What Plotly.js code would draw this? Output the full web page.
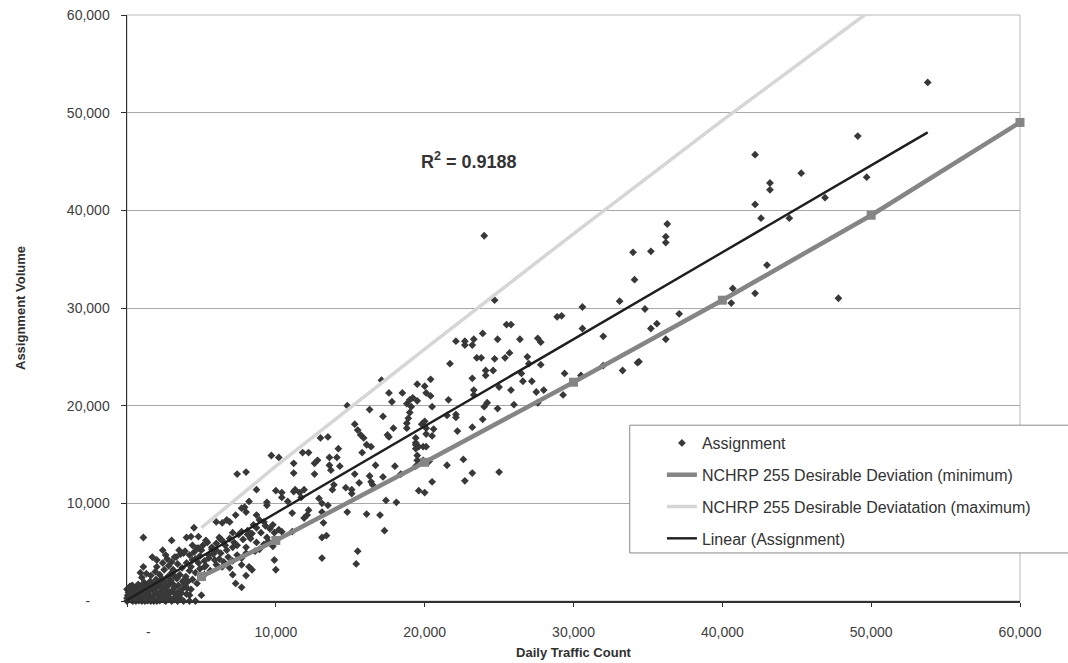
<!DOCTYPE html>
<html>
<head>
<meta charset="utf-8">
<script src="https://cdn.plot.ly/plotly-3.0.1.min.js"></script>
<style>
  html, body { margin: 0; padding: 0; background: #ffffff; }
  #chart { width: 1068px; height: 663px; }
</style>
</head>
<body>
<div id="chart"></div>
<script>
// Daily traffic counts vs. model assignment volumes, one pair per counted link
const countX = [
  53800, 49100, 42200, 45300, 43200, 43200, 49700, 46900, 47800,
  42200, 42600, 44500, 36300, 36200, 36200, 35200, 43000, 40700, 42200, 40600,
  34800, 37100, 35600, 35200, 36200, 34400,
  24000, 34000, 34100, 24700, 30600, 33100, 28900, 29200, 30600, 25500, 25800,
  23900, 23300, 23200, 24900, 26400, 27600, 27800, 32000, 23500, 23800, 24700,
  25400, 25700, 26900, 24100, 24600, 24100, 27000, 27800, 26500, 23200, 29400,
  30500, 32000, 33300, 34300, 25000, 25800, 26600, 27200, 27500, 28000, 29300,
  23300, 23300, 24200, 24000, 24900, 26000, 27600, 23900, 23200, 23200, 25000,
  22100, 22700, 22700, 21700, 20400, 19500, 20000, 17100, 17600, 18500, 20100,
  20400, 19000, 19200, 19500, 18800, 19100, 19000, 21600, 20500, 17800, 16300,
  14800, 17200, 18900, 18800, 20000, 19800, 21500, 22100, 22100, 17900, 18800,
  17500, 17600, 20100, 20600, 20500, 20100, 19400, 19400, 19400, 19400, 19500,
  19500, 19400, 19600, 19900, 20100, 19900, 20300, 22200, 22600, 21500, 22700,
  20500, 19600, 20000,
  15300, 15500, 15700, 15900, 16100, 16400, 13500, 13000, 14200, 14100, 13600,
  12800, 12600, 14300, 13600, 13700, 12600, 15800, 16700, 15300, 16300, 16400,
  16500, 17200, 18000, 18400, 15600, 11800, 12200, 11200, 11200, 14700, 15100,
  15100, 13800, 13900, 12900, 13100, 13500, 11300, 11600, 11900, 11700, 12200,
  12100, 11900, 11100, 13100, 14800, 13200, 17400, 18100, 16100, 17000, 17300,
  13100, 13400, 13100, 15500, 15400,
  9700, 10200, 7400, 8000, 10000, 10400, 10400, 11200, 8700, 8200, 9400, 9400,
  10800, 7700, 7900, 8000, 7300, 6700, 6400, 6900, 6000, 8700, 8900, 9200, 9800,
  10200, 10400, 8500, 4500, 1100, 3000, 4000, 4300, 4800, 5300, 6200, 6400,
  7100, 7700, 8100, 8300, 8700, 9400, 9900, 11100, 4400, 4700, 5000, 5700, 6000,
  6300, 5500, 6700, 7100, 7400, 8000, 3500, 3800, 3200, 2400, 2600, 1700, 2000,
  1100, 900, 4400, 4800, 5200, 6000, 6400, 6900, 7700, 8200, 8400, 7100, 8000,
  9900, 10000, 7300, 7700, 5000, 4200, 3500, 3000, 3400, 3800,
  100, 300, 500, 700, 900, 1100, 1300, 1500, 1700, 1900, 2100, 2300, 2500, 2700,
  2900, 3100, 3300, 3600, 200, 400, 600, 800, 1000, 1200, 1400, 1600, 1800, 2000,
  2200, 2400, 2600, 2800, 3000, 3200, 3400, 3700, 4000, 150, 350, 550, 750, 950,
  1150, 1350, 1550, 1750, 1950, 2150, 2350, 2550, 2750, 2950, 3150, 3350, 3550,
  3750, 3950, 4400, 50, 250, 450, 650, 850, 1050, 1250, 1450, 1650, 1850, 2050,
  2250, 2450, 2650, 2850, 3050, 3250, 3450, 3650, 3850, 4050,
  1000, 1300, 1600, 1900, 2200, 2500, 2800, 3100, 3400, 3700, 4000, 4300, 4600,
  4900, 5200, 5500, 5800, 2000, 2400, 2700, 3000, 3300, 3600, 3900, 4200, 4500,
  4800, 5100, 5400, 5700, 6000, 6300, 6600, 6900, 7200, 7500, 7800, 8100, 8400,
  8700, 9000, 9300, 9600, 5300, 5600, 5900, 6200, 6500, 6800, 7100, 7400, 7700,
  8000, 8600, 8900, 9200, 9500, 9800, 4600, 4900, 5200, 4200, 4700, 4300, 3900,
  4100,
  0, 100, 0, 200, 100, 300, 0, 400, 600, 800, 1000, 1200, 1400, 1600, 1800,
  2000, 2200, 2600, 3000, 3400, 3800, 4200, 4600
];
const assignY = [
  53100, 47600, 45700, 43800, 42800, 42100, 43400, 41300, 31000,
  40600, 39200, 39200, 38600, 37300, 36700, 35800, 34400, 32000, 31500, 30500,
  29900, 29400, 28400, 27900, 26800, 24500,
  37400, 35700, 32900, 30800, 30100, 30700, 29100, 29200, 27900, 28300, 28300,
  27400, 26800, 26200, 26800, 26800, 26900, 26500, 27100, 24900, 24900, 24800,
  24900, 25400, 25000, 23600, 23600, 23100, 24300, 24200, 23300, 22800, 23300,
  23100, 24100, 23600, 24400, 21900, 21600, 22500, 22500, 21400, 21600, 21100,
  21600, 21100, 20300, 19900, 19700, 20100, 20300, 18600, 17800, 13100, 13200,
  26600, 26600, 26200, 24300, 22700, 22200, 22000, 22600, 21300, 21300, 21300,
  21000, 20600, 20800, 20500, 20200, 19900, 19300, 20600, 19900, 20400, 19600,
  20000, 18900, 18700, 18200, 18400, 18100, 19000, 19100, 18800, 17700, 17700,
  17000, 16800, 17700, 17600, 16900, 17100, 16700, 16200, 16000, 15600, 14900,
  14400, 13800, 15800, 15800, 15800, 14400, 14300, 17400, 14500, 13900, 12300,
  12200, 11300, 11100,
  18100, 17500, 17000, 16700, 16000, 15800, 16800, 16700, 15600, 14700, 14700,
  14400, 14100, 13800, 13900, 13400, 13000, 15200, 13900, 13000, 12800, 12200,
  11900, 12700, 13800, 13000, 12100, 15200, 15200, 14100, 13100, 11600, 11400,
  11000, 11400, 11900, 10500, 10000, 9800, 11400, 11100, 11400, 10600, 9300,
  8800, 8500, 9000, 9100, 9100, 8000, 10300, 10100, 8900, 8800, 7200,
  6500, 6700, 4400, 5100, 3800,
  14900, 14700, 13000, 13200, 11300, 11100, 10600, 11200, 11400, 10200, 10100, 9800,
  10200, 9500, 9600, 9100, 8800, 8300, 8000, 8100, 8100, 8800, 8300, 8100, 7800,
  7300, 7100, 7800, 7500, 6500, 6200, 6500, 6600, 6600, 6200, 6500, 6200,
  7000, 7100, 6800, 6400, 6000, 6500, 7000, 7100, 5700, 5400, 5200, 5500, 5200,
  4900, 4700, 5200, 5500, 5700, 5500, 5200, 4900, 4500, 5200, 4700, 4500, 4200,
  3500, 2900, 4200, 3900, 3500, 3700, 3500, 3400, 3700, 3500, 3200, 2700, 2600,
  4200, 3200, 1800, 1400, 600, 600, 400, 2900, 2500, 2100,
  200, 100, 400, 150, 600, 300, 100, 500, 250, 700, 150, 400, 100, 600,
  300, 150, 500, 200, 800, 1000, 700, 1100, 900, 1300, 800, 1200, 1000, 1400,
  900, 1300, 1100, 1600, 1000, 1400, 900, 1200, 700, 1400, 1600, 1300, 1700, 1500,
  1900, 1600, 2000, 1800, 2200, 1900, 2300, 2000, 2500, 2100, 2600, 2300, 2700,
  2000, 2500, 2200, 600, 400, 150, 1000, 300, 1600, 600, 1100, 400, 1500, 700,
  1700, 600, 1500, 900, 1800, 700, 1600, 800, 1800, 1300,
  2400, 2800, 2600, 3000, 2700, 3200, 3600, 3200, 3800, 3400, 3900, 3500, 4300,
  4600, 4100, 4400, 4800, 3500, 3900, 4300, 4000, 4500, 4800, 5100, 4700, 5000,
  5400, 5700, 6000, 5300, 5900, 6300, 5700, 6400, 6000, 6800, 6300, 7200, 6900,
  7500, 7000, 7700, 7400, 3600, 3100, 4200, 4300, 4000, 4500, 4100, 4700, 4400,
  4900, 5100, 5300, 5800, 6100, 5600, 2900, 3300, 2700, 3100, 1800, 1200, 1600,
  2000,
  300, 900, 1200, 1500, 1100, 600, 0, 0, 0, 50, 0, 0, 50, 0, 0,
  0, 50, 0, 0, 0, 0, 0, 0
];

// NCHRP Report 255 maximum desirable deviation band
const nchrpCounts = [5000, 10000, 20000, 30000, 40000, 50000, 60000];
const nchrpMin = [2500, 6200, 14200, 22400, 30800, 39500, 49000];
const nchrpMax = [7500, 13800, 25800, 37600, 49200, 60500, 71000];

// Linear trendline fitted to the assignment points
const trendSlope = 0.89;
const trendIntercept = 100;
const rSquared = '0.9188';

// Axis ticks (accounting style: zero shown as a dash)
const NB = '\u00a0';
const tickVals = [0, 10000, 20000, 30000, 40000, 50000, 60000];
const xTickText = [NB.repeat(11) + '-', '10,000', '20,000', '30,000', '40,000', '50,000', '60,000'];
const yTickText = ['-' + NB.repeat(5), '10,000', '20,000', '30,000', '40,000', '50,000', '60,000'];

const trendX = [Math.min(...countX), Math.max(...countX)];
const trendY = trendX.map(v => trendSlope * v + trendIntercept);

const FONT = '"Liberation Sans", Arial, sans-serif';

const traces = [
  {
    name: 'Assignment', type: 'scatter', mode: 'markers',
    x: countX, y: assignY, legendgroup: 'a', cliponaxis: false,
    marker: { symbol: 'diamond', size: 6, color: '#383838' }
  },
  {
    name: 'NCHRP 255 Desirable Deviation (minimum)', type: 'scatter', mode: 'lines',
    x: nchrpCounts, y: nchrpMin, legendgroup: 'b',
    line: { color: '#858585', width: 4.5 }
  },
  {
    name: 'min markers', type: 'scatter', mode: 'markers', showlegend: false,
    x: nchrpCounts, y: nchrpMin, legendgroup: 'b', cliponaxis: false,
    marker: { symbol: 'square', size: 9, color: '#858585' }
  },
  {
    name: 'NCHRP 255 Desirable Deviatation (maximum)', type: 'scatter', mode: 'lines',
    x: nchrpCounts, y: nchrpMax, legendgroup: 'c',
    line: { color: '#d6d6d6', width: 3.5 }
  },
  {
    name: 'Linear (Assignment)', type: 'scatter', mode: 'lines',
    x: trendX, y: trendY, legendgroup: 'd',
    line: { color: '#1e1e1e', width: 2.4 }
  }
];

const layout = {
  width: 1068, height: 663,
  margin: { l: 127, r: 48, t: 15, b: 62 },
  paper_bgcolor: '#ffffff', plot_bgcolor: '#ffffff',
  font: { family: FONT, color: '#404040', size: 14 },
  showlegend: true,
  xaxis: {
    range: [0, 60000], tickmode: 'array', tickvals: tickVals, ticktext: xTickText,
    showgrid: false, zeroline: false, showline: true, linecolor: '#303030', linewidth: 1.5,
    ticks: 'outside', ticklen: 4, tickcolor: '#303030', ticklabelstandoff: 14,
    tickfont: { size: 14, color: '#404040' },
    title: { text: '<b>Daily Traffic Count</b>', font: { size: 13, color: '#303030' }, standoff: 8 }
  },
  yaxis: {
    range: [0, 60000], tickmode: 'array', tickvals: tickVals, ticktext: yTickText,
    showgrid: true, gridcolor: '#a8a8a8', gridwidth: 1, zeroline: false,
    showline: true, linecolor: '#303030', linewidth: 1.5,
    ticks: 'outside', ticklen: 5, tickcolor: '#303030', ticklabelstandoff: 8,
    tickfont: { size: 14, color: '#404040' },
    title: { text: '<b>Assignment Volume</b>', font: { size: 13, color: '#303030' }, standoff: 38 }
  },
  shapes: [
    { type: 'rect', xref: 'paper', yref: 'paper', x0: 0, x1: 1, y0: 0, y1: 1,
      line: { color: '#b8b8b8', width: 1 }, layer: 'below' },
    // legend frame, white-filled over the plot
    { type: 'rect', xref: 'paper', yref: 'paper', x0: 0.563, x1: 1.07, y0: 0.082, y1: 0.300,
      line: { color: '#8a8a8a', width: 1 }, fillcolor: '#ffffff', layer: 'above' }
  ],
  legend: {
    x: 0.599, y: 0.2986, xanchor: 'left', yanchor: 'top',
    bgcolor: 'rgba(0,0,0,0)', borderwidth: 0,
    font: { family: FONT, size: 16, color: '#333333' },
    tracegroupgap: 8, traceorder: 'grouped'
  },
  annotations: [
    { x: 23000, y: 45100, xref: 'x', yref: 'y', showarrow: false,
      text: '<b>R<sup>2</sup> = ' + rSquared + '</b>',
      font: { family: FONT, size: 18, color: '#333333' } }
  ]
};

Plotly.newPlot('chart', traces, layout, { staticPlot: true, displayModeBar: false });
</script>
</body>
</html>
